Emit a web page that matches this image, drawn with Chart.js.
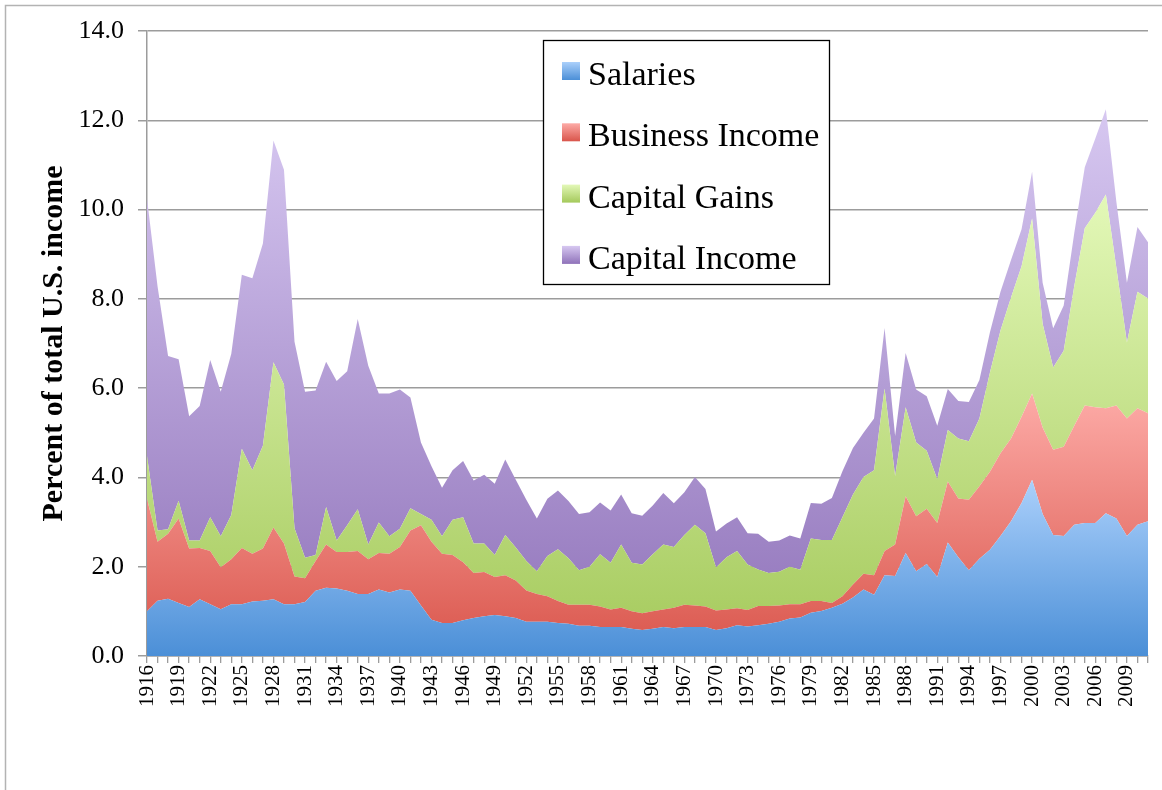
<!DOCTYPE html>
<html>
<head>
<meta charset="utf-8">
<script src="https://cdn.jsdelivr.net/npm/chart.js@4.4.1/dist/chart.umd.min.js"></script>
<style>
  html, body { margin: 0; padding: 0; background: #fff; overflow: hidden; }
  #wrap { width: 1162px; height: 790px; position: relative; }
</style>
</head>
<body>
<div id="wrap"><canvas id="chart" width="1162" height="790"></canvas></div>
<script>
// years 1916 - 2011
const years = Array.from({ length: 96 }, (_, i) => 1916 + i);

const seriesNames = ["Salaries", "Business Income", "Capital Gains", "Capital Income"];

// percent of total U.S. income
const salaries = [
  1.00, 1.24, 1.28, 1.19, 1.10, 1.27, 1.16, 1.05, 1.16, 1.16,
  1.22, 1.24, 1.27, 1.16, 1.16, 1.21, 1.46, 1.53, 1.51, 1.46,
  1.39, 1.39, 1.49, 1.42, 1.49, 1.46, 1.13, 0.81, 0.74, 0.74,
  0.80, 0.85, 0.89, 0.92, 0.89, 0.85, 0.77, 0.77, 0.77, 0.74,
  0.72, 0.68, 0.68, 0.65, 0.65, 0.65, 0.61, 0.58, 0.61, 0.65,
  0.62, 0.65, 0.65, 0.65, 0.58, 0.62, 0.69, 0.66, 0.69, 0.72,
  0.77, 0.84, 0.86, 0.97, 1.01, 1.08, 1.17, 1.31, 1.49, 1.37,
  1.81, 1.79, 2.31, 1.90, 2.06, 1.77, 2.54, 2.21, 1.92, 2.18,
  2.38, 2.69, 3.02, 3.43, 3.95, 3.18, 2.71, 2.69, 2.94, 2.98,
  2.98, 3.20, 3.08, 2.69, 2.94, 3.02
];
const businessIncome = [
  2.52, 1.32, 1.46, 1.89, 1.31, 1.15, 1.19, 0.94, 1.01, 1.26,
  1.07, 1.17, 1.61, 1.36, 0.62, 0.53, 0.67, 0.97, 0.82, 0.87,
  0.96, 0.78, 0.82, 0.87, 0.95, 1.35, 1.80, 1.75, 1.55, 1.52,
  1.30, 1.01, 0.99, 0.85, 0.92, 0.84, 0.70, 0.62, 0.57, 0.49,
  0.43, 0.47, 0.47, 0.46, 0.39, 0.43, 0.39, 0.38, 0.39, 0.39,
  0.46, 0.50, 0.48, 0.46, 0.44, 0.42, 0.38, 0.37, 0.43, 0.40,
  0.36, 0.32, 0.30, 0.26, 0.22, 0.11, 0.17, 0.29, 0.35, 0.44,
  0.54, 0.71, 1.27, 1.23, 1.24, 1.21, 1.37, 1.32, 1.58, 1.62,
  1.75, 1.85, 1.85, 1.93, 1.93, 1.94, 1.91, 2.00, 2.22, 2.63,
  2.59, 2.35, 2.53, 2.63, 2.61, 2.42
];
const capitalGains = [
  0.96, 0.25, 0.10, 0.40, 0.18, 0.17, 0.76, 0.69, 0.99, 2.22,
  1.87, 2.30, 3.70, 3.56, 1.08, 0.46, 0.13, 0.84, 0.26, 0.60,
  0.94, 0.33, 0.68, 0.39, 0.41, 0.50, 0.25, 0.49, 0.39, 0.79,
  1.01, 0.66, 0.64, 0.49, 0.90, 0.74, 0.66, 0.51, 0.90, 1.16,
  1.04, 0.77, 0.85, 1.17, 1.05, 1.42, 1.09, 1.09, 1.28, 1.46,
  1.36, 1.56, 1.81, 1.64, 0.96, 1.17, 1.28, 1.02, 0.82, 0.74,
  0.76, 0.84, 0.77, 1.40, 1.37, 1.41, 1.77, 2.02, 2.17, 2.35,
  3.64, 1.53, 1.99, 1.65, 1.30, 0.98, 1.15, 1.34, 1.31, 1.52,
  2.22, 2.75, 3.16, 3.37, 3.92, 2.32, 1.84, 2.15, 3.12, 3.97,
  4.36, 4.79, 3.08, 1.70, 2.61, 2.57
];
const capitalIncome = [
  5.77, 5.47, 3.88, 3.17, 2.78, 3.01, 3.52, 3.24, 3.61, 3.90,
  4.30, 4.53, 4.97, 4.81, 4.18, 3.72, 3.69, 3.25, 3.57, 3.45,
  4.26, 4.00, 2.89, 3.20, 3.12, 2.48, 1.60, 1.20, 1.09, 1.11,
  1.26, 1.41, 1.54, 1.60, 1.69, 1.52, 1.37, 1.18, 1.28, 1.32,
  1.28, 1.26, 1.22, 1.16, 1.17, 1.12, 1.11, 1.09, 1.09, 1.15,
  0.98, 0.96, 1.07, 0.99, 0.81, 0.76, 0.76, 0.70, 0.80, 0.70,
  0.70, 0.70, 0.70, 0.80, 0.81, 0.94, 1.03, 1.04, 0.99, 1.16,
  1.36, 0.90, 1.22, 1.19, 1.22, 1.20, 0.92, 0.84, 0.88, 0.86,
  0.90, 0.87, 0.84, 0.83, 1.05, 0.92, 0.88, 1.01, 1.19, 1.37,
  1.66, 1.91, 1.48, 1.34, 1.45, 1.26
];

const allSeries = [salaries, businessIncome, capitalGains, capitalIncome];

// [dark (bottom), light (top)] for each series
const shades = [
  ["#4b8fd7", "#abd0fb"],
  ["#d9554b", "#fdaba7"],
  ["#a4c95b", "#e3f8b8"],
  ["#8f72b9", "#d7c8f1"],
];

// highest stacked top per series, used to stretch each gradient
const stackTops = allSeries.map((_, s) =>
  Math.max(...years.map((_, i) => allSeries.slice(0, s + 1).reduce((a, arr) => a + arr[i], 0)))
);

function areaFill(ctx, s) {
  const chart = ctx.chart;
  const area = chart.chartArea;
  if (!area || !chart.scales.y) return shades[s][0];
  const top = chart.scales.y.getPixelForValue(stackTops[s]);
  const g = chart.ctx.createLinearGradient(0, area.bottom, 0, top);
  g.addColorStop(0, shades[s][0]);
  g.addColorStop(1, shades[s][1]);
  return g;
}

const serif = "'Liberation Serif', 'Times New Roman', serif";

// frame of the chart object (top and left edges visible)
const framePlugin = {
  id: "frame",
  beforeDraw(chart) {
    const c = chart.ctx;
    c.save();
    c.fillStyle = "#fff";
    c.fillRect(0, 0, chart.width, chart.height);
    c.strokeStyle = "#b3b3b3";
    c.lineWidth = 1.5;
    c.beginPath();
    c.moveTo(5.5, chart.height + 5);
    c.lineTo(5.5, 5.5);
    c.lineTo(chart.width + 5, 5.5);
    c.stroke();
    c.restore();
  },
};

// boxed legend inside the plot, like the original
const boxLegend = {
  id: "boxLegend",
  afterDraw(chart) {
    const c = chart.ctx;
    c.save();
    c.fillStyle = "#fff";
    c.fillRect(543, 40, 286, 244);
    c.strokeStyle = "#000";
    c.lineWidth = 1.3;
    c.strokeRect(543.5, 40.5, 286, 244);
    c.font = "34px " + serif;
    c.textBaseline = "alphabetic";
    seriesNames.forEach((name, s) => {
      const y = 62 + s * 61.3;
      const g = c.createLinearGradient(0, y, 0, y + 18);
      g.addColorStop(0, shades[s][1]);
      g.addColorStop(1, shades[s][0]);
      c.fillStyle = g;
      c.fillRect(562, y, 18, 18);
      c.fillStyle = "#000";
      c.fillText(name, 588, y + 23);
    });
    c.restore();
  },
};

const ctx = document.getElementById("chart").getContext("2d");

new Chart(ctx, {
  type: "line",
  data: {
    labels: years,
    datasets: allSeries.map((vals, s) => ({
      label: seriesNames[s],
      data: vals,
      fill: s === 0 ? "origin" : "-1",
      backgroundColor: (c) => areaFill(c, s),
      borderWidth: 0,
      borderColor: "rgba(0,0,0,0)",
      pointRadius: 0,
      tension: 0,
    })),
  },
  options: {
    responsive: false,
    animation: false,
    layout: { padding: { left: 0, top: 31, right: 14, bottom: 0 } },
    plugins: {
      legend: { display: false },
      tooltip: { enabled: false },
      title: { display: false },
    },
    scales: {
      x: {
        type: "category",
        offset: false,
        grid: {
          drawOnChartArea: false,
          drawTicks: true,
          tickLength: 7,
          color: "#9c9c9c",
          lineWidth: 1.3,
        },
        border: { color: "#9c9c9c", width: 1.5 },
        ticks: {
          autoSkip: false,
          maxRotation: 90,
          minRotation: 90,
          padding: 2,
          color: "#000",
          font: { family: serif, size: 21 },
          callback: (val, idx) => (idx % 3 === 0 ? String(years[idx]) : ""),
        },
        afterFit: (scale) => {
          scale.height = 134;
          scale.paddingLeft = 0;
          scale.paddingRight = 0;
        },
      },
      y: {
        stacked: true,
        min: 0,
        max: 14,
        grid: {
          color: "#9c9c9c",
          lineWidth: 1.5,
          tickLength: 9,
        },
        border: { color: "#9c9c9c", width: 1.5 },
        ticks: {
          stepSize: 2,
          padding: 14,
          color: "#000",
          font: { family: serif, size: 26 },
          callback: (v) => v.toFixed(1),
        },
        title: {
          display: true,
          text: "Percent of total U.S. income",
          color: "#000",
          font: { family: serif, size: 30, weight: "bold" },
          padding: { top: 36, bottom: 0 },
        },
        afterFit: (scale) => { scale.width = 147; },
      },
    },
  },
  plugins: [framePlugin, boxLegend],
});
</script>
</body>
</html>
